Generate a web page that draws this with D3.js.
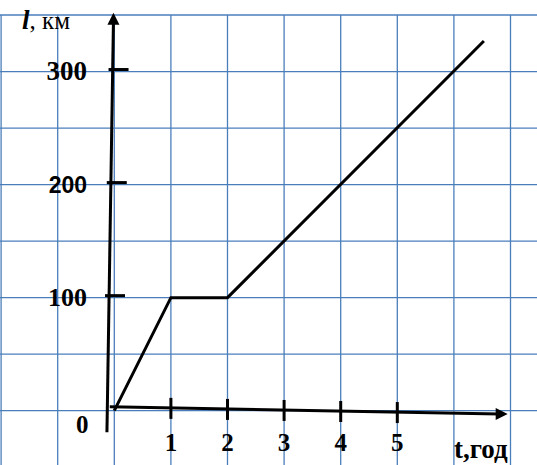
<!DOCTYPE html>
<html><head><meta charset="utf-8">
<script src="https://cdn.jsdelivr.net/npm/d3@7"></script>
<style>html,body{margin:0;padding:0;background:#fff;}svg{display:block;}</style>
</head><body>
<svg id="c" width="537" height="465"></svg>
<script>
// Data
const times = [0, 1, 2, 6.53];          // t, год
const distances = [0, 100, 100, 327];   // l, км
const xTicks = [1, 2, 3, 4, 5];
const yTicks = [100, 200, 300];
const gridT = [-2, -1, 0, 1, 2, 3, 4, 5, 6, 7];
const gridL = [0, 50, 100, 150, 200, 250, 300, 350];

const svg = d3.select("#c");
const x = d3.scaleLinear().domain([0, 7]).range([114.3, 510.5]);
const y = d3.scaleLinear().domain([0, 350]).range([410.7, 15]);

const gridColor = "#4a7ebb";
// grid
svg.selectAll("line.gv").data(gridT).enter().append("line")
  .attr("x1", d => x(d)).attr("x2", d => x(d)).attr("y1", y(350)).attr("y2", 465)
  .attr("stroke", gridColor).attr("stroke-width", 1.3);
svg.selectAll("line.gh").data(gridL).enter().append("line")
  .attr("x1", 0).attr("x2", 537).attr("y1", d => y(d)).attr("y2", d => y(d))
  .attr("stroke", gridColor).attr("stroke-width", 1.3);

// axes (hand-drawn, slightly slanted)
const yAxS = [x(-0.13), y(-19)], yAxE = [x(-0.015), y(352)];
const xAxS = [x(-0.08), y(3.5)], xAxE = [x(6.95), y(-3)];
svg.append("line").attr("x1", yAxS[0]).attr("y1", yAxS[1]).attr("x2", yAxE[0]).attr("y2", yAxE[1] + 8)
  .attr("stroke", "#000").attr("stroke-width", 3);
svg.append("line").attr("x1", xAxS[0]).attr("y1", xAxS[1]).attr("x2", xAxE[0] - 8).attr("y2", xAxE[1])
  .attr("stroke", "#000").attr("stroke-width", 3);
// arrowheads
svg.append("path").attr("d", `M${yAxE[0]},${yAxE[1]} L${yAxE[0]-6},${yAxE[1]+12} L${yAxE[0]+6},${yAxE[1]+12} Z`).attr("fill", "#000");
svg.append("path").attr("d", `M${xAxE[0]},${xAxE[1]} L${xAxE[0]-12},${xAxE[1]-6} L${xAxE[0]-12},${xAxE[1]+6} Z`).attr("fill", "#000");

const axYat = px => xAxS[1] + (xAxE[1] - xAxS[1]) * (px - xAxS[0]) / (xAxE[0] - xAxS[0]);
const axXat = py => yAxS[0] + (yAxE[0] - yAxS[0]) * (py - yAxS[1]) / (yAxE[1] - yAxS[1]);

// y ticks
svg.selectAll("line.yt").data(yTicks).enter().append("line")
  .attr("x1", d => axXat(y(d)) - 4).attr("x2", d => axXat(y(d)) + 16)
  .attr("y1", d => y(d) - 2).attr("y2", d => y(d) - 2)
  .attr("stroke", "#000").attr("stroke-width", 3);
// x ticks
svg.selectAll("line.xt").data(xTicks).enter().append("line")
  .attr("x1", d => x(d)).attr("x2", d => x(d))
  .attr("y1", d => axYat(x(d)) - 10).attr("y2", d => axYat(x(d)) + 11)
  .attr("stroke", "#000").attr("stroke-width", 3);

// data line
const line = d3.line().x((d, i) => x(times[i])).y((d, i) => y(distances[i]));
svg.append("path").datum(times).attr("d", line)
  .attr("fill", "none").attr("stroke", "#000").attr("stroke-width", 3).attr("stroke-linejoin", "miter");

// labels
const serif = "'Liberation Serif','Times New Roman',serif";
const sans = "'Liberation Sans',Arial,sans-serif";
const yLab = [
  {v: 300, f: serif, s: 27},
  {v: 200, f: sans, s: 23},
  {v: 100, f: serif, s: 26}
];
svg.selectAll("text.yl").data(yLab).enter().append("text")
  .attr("x", 87).attr("y", d => y(d.v) + 8)
  .attr("text-anchor", "end").attr("font-family", d => d.f).attr("font-weight", "bold")
  .attr("font-size", d => d.s).text(d => d.v);
svg.append("text").attr("x", 76).attr("y", 433).attr("font-family", serif).attr("font-weight", "bold")
  .attr("font-size", 25).text("0");
svg.selectAll("text.xl").data(xTicks).enter().append("text")
  .attr("x", d => x(d)).attr("y", 451)
  .attr("text-anchor", "middle").attr("font-family", serif).attr("font-weight", "bold")
  .attr("font-size", 25).text(d => d);

const tl = svg.append("text").attr("x", 22).attr("y", 29).attr("font-family", serif).attr("font-size", 25);
tl.append("tspan").attr("font-weight", "bold").attr("font-style", "italic").attr("font-size", 27).text("l");
tl.append("tspan").text(", км");

svg.append("text").attr("x", 454).attr("y", 458).attr("font-family", serif).attr("font-weight", "bold")
  .attr("font-size", 27).text("t,год");
</script>
</body></html>
